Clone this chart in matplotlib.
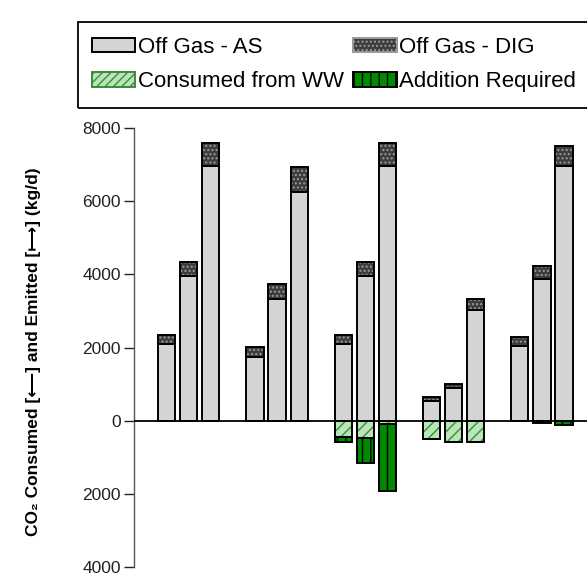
import matplotlib
import numpy as np

matplotlib.use("Agg")
import matplotlib.pyplot as plt  # noqa: E402
from matplotlib.patches import Patch, Rectangle  # noqa: E402
from matplotlib.ticker import FuncFormatter  # noqa: E402

# five scenarios, three bars each (kg/d)
groups = ["A", "B", "C", "D", "E"]
off_gas_as = [2100, 3950, 6950, 1750, 3330, 6260, 2100, 3950, 6950, 550, 900, 3030, 2050, 3880, 6960]
off_gas_dig = [250, 380, 650, 270, 410, 670, 250, 380, 650, 100, 100, 300, 250, 360, 560]
consumed_ww = [0, 0, 0, 0, 0, 0, 440, 470, 80, 490, 570, 570, 0, 20, 0]
addition_req = [0, 0, 0, 0, 0, 0, 130, 680, 1830, 0, 0, 0, 0, 40, 110]
y_ticks = [-4000, -2000, 0, 2000, 4000, 6000, 8000]

plt.rcParams["font.family"] = ["Liberation Sans", "DejaVu Sans"]
plt.rcParams["hatch.linewidth"] = 1.0

C_AS = "#d4d4d4"
C_DIG, H_DIG = "#3c3c3c", "#9a9a9a"
C_WW, H_WW = "#b8e6b8", "#3d8a3d"
C_ADD, H_ADD = "#008a00", "#000000"
LW = 1.4

fig = plt.figure(figsize=(5.87, 5.78), dpi=100)
ax = fig.add_axes([134 / 587, 11 / 578, 1 - 134 / 587, 439 / 578])

offsets = np.array([-0.25, 0.0, 0.25])
x = (np.arange(len(groups))[:, None] + offsets[None, :]).ravel()
w = 0.195

as_ = np.array(off_gas_as)
dig = np.array(off_gas_dig)
ww = -np.array(consumed_ww)
add = -np.array(addition_req)


def seg(vals, bottom, face, hatch=None, hcol=None):
    # fill + hatch first, black outline on top
    if hatch:
        ax.bar(x, vals, w, bottom=bottom, color=face, edgecolor=hcol, hatch=hatch, linewidth=0, zorder=2)
    else:
        ax.bar(x, vals, w, bottom=bottom, color=face, linewidth=0, zorder=2)
    ax.bar(x, vals, w, bottom=bottom, fill=False, edgecolor="black", linewidth=LW, zorder=3)


seg(as_, 0, C_AS)
seg(dig, as_, C_DIG, "....", H_DIG)
seg(ww, 0, C_WW, "///", H_WW)
seg(add, ww, C_ADD, "||", H_ADD)

ax.axhline(0, color="black", linewidth=1.3, zorder=4)

ax.set_xlim(-0.62, 4.51)
ax.set_ylim(-4000, 8000)
ax.set_yticks(y_ticks)
ax.yaxis.set_major_formatter(FuncFormatter(lambda v, p: f"{abs(v):.0f}"))
ax.tick_params(axis="y", direction="out", length=7, width=1, labelsize=12.5, colors="#222222", pad=2.5)
ax.set_xticks([])
for s in ("top", "right", "bottom"):
    ax.spines[s].set_visible(False)
ax.spines["left"].set_color("#555555")
ax.spines["left"].set_linewidth(1)

ax.set_ylabel("CO\u2082 Consumed [\u27f5] and Emitted [\u27fc] (kg/d)", fontsize=12.5, fontweight="bold")
ax.yaxis.set_label_coords(-0.205, 0.49)

# legend
handles = [
    Patch(facecolor=C_AS, edgecolor="black", linewidth=LW),
    Patch(facecolor=C_WW, edgecolor=H_WW, hatch="////", linewidth=LW),
    Patch(facecolor=C_DIG, edgecolor=H_DIG, hatch="....", linewidth=LW),
    Patch(facecolor=C_ADD, edgecolor=H_ADD, hatch="||", linewidth=LW),
]
labels = ["Off Gas - AS", "Consumed from WW", "Off Gas - DIG", "Addition Required"]
fig.legend(handles, labels, ncol=2, loc="upper left", bbox_to_anchor=(92 / 587, 1 - 37 / 578),
           frameon=False, fontsize=16, handlelength=1.95, handleheight=0.62, handletextpad=0.12,
           columnspacing=0.42, labelspacing=0.6, borderpad=0, borderaxespad=0)
fig.add_artist(Rectangle((78 / 587, 1 - 108 / 578), 0.9, 86 / 578, transform=fig.transFigure,
                         fill=False, edgecolor="black", linewidth=1.3))

fig.savefig("out.png", dpi=100)
